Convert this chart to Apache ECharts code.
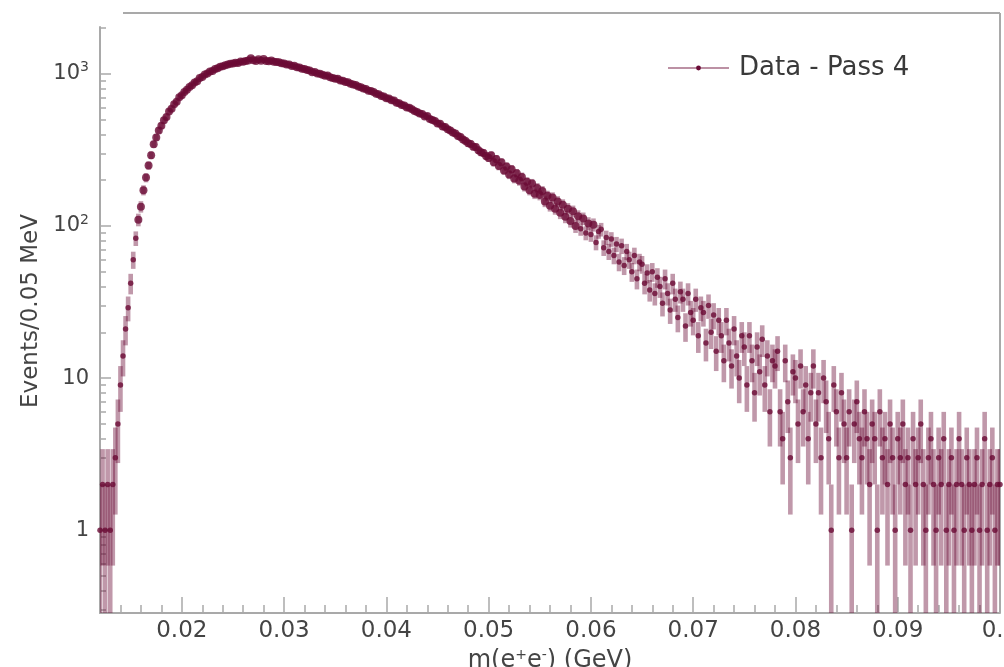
<!DOCTYPE html>
<html><head><meta charset="utf-8">
<script src="https://cdn.jsdelivr.net/npm/echarts@6/dist/echarts.min.js"></script>
<style>html,body{margin:0;padding:0;background:#fff}#c{width:1004px;height:667px}</style>
</head><body><div id="c"></div>
<script>
// histogram bins (GeV): first bin centre and spacing of the sampled bins
const binStart = 0.012;
const binStep = 0.00025;
// Events / 0.05 MeV, one row per 0.001 GeV
const counts = [
  1, 2, 1, 2,          // 0.012
  1, 2, 3, 5,          // 0.013
  9, 14, 21, 29,       // 0.014
  42, 60, 83, 110,     // 0.015
  134, 172, 208, 250,  // 0.016
  292, 345, 382, 425,  // 0.017
  455, 495, 520, 565,  // 0.018
  590, 630, 655, 702,  // 0.019
  722, 760, 785, 820,  // 0.020
  840, 878, 895, 940,  // 0.021
  955, 990, 1005, 1035,   // 0.022
  1045, 1075, 1090, 1115, // 0.023
  1120, 1140, 1150, 1165, // 0.024
  1170, 1185, 1180, 1205, // 0.025
  1200, 1215, 1225, 1265, // 0.026
  1230, 1215, 1245, 1220, // 0.027
  1250, 1215, 1210, 1225, // 0.028
  1200, 1195, 1190, 1175, // 0.029
  1170, 1150, 1150, 1125, // 0.030
  1130, 1105, 1100, 1080, // 0.031
  1075, 1060, 1050, 1025, // 0.032
  1030, 1005, 1000, 985,  // 0.033
  970, 975, 950, 940,  // 0.034
  930, 930, 905, 900,  // 0.035
  885, 880, 860, 850,  // 0.036
  845, 825, 815, 800,  // 0.037
  795, 775, 770, 760,  // 0.038
  740, 735, 715, 710,  // 0.039
  690, 688, 670, 668,  // 0.040
  645, 642, 625, 620,  // 0.041
  600, 598, 585, 570,  // 0.042
  562, 548, 545, 525,  // 0.043
  528, 505, 498, 490,  // 0.044
  472, 470, 450, 448,  // 0.045
  432, 425, 412, 405,  // 0.046
  390, 384, 370, 362,  // 0.047
  350, 346, 332, 330,  // 0.048
  315, 305, 302, 288,  // 0.049
  280, 292, 262, 276,  // 0.050
  248, 262, 232, 246,  // 0.051
  218, 236, 205, 222,  // 0.052
  198, 210, 182, 195,  // 0.053
  172, 190, 163, 178,  // 0.054
  160, 170, 145, 158,  // 0.055
  136, 154, 130, 145,  // 0.056
  122, 138, 115, 130,  // 0.057
  108, 125, 100, 116,  // 0.058
  96, 112, 90, 104,    // 0.059
  88, 102, 78, 92,     // 0.060
  95, 72, 84, 68,      // 0.061
  82, 64, 76, 58,      // 0.062
  74, 55, 68, 60,      // 0.063
  50, 64, 45, 58,      // 0.064
  56, 42, 49, 38,      // 0.065
  50, 36, 46, 40,      // 0.066
  31, 45, 36, 28,      // 0.067
  42, 33, 25, 37,      // 0.068
  33, 22, 36, 27,      // 0.069
  24, 33, 19, 29,      // 0.070
  27, 17, 30, 20,      // 0.071
  26, 15, 24, 19,      // 0.072
  13, 24, 17, 12,      // 0.073
  21, 14, 10, 19,      // 0.074
  16, 9, 19, 13,       // 0.075
  8, 16, 11, 18,       // 0.076
  9, 14, 6, 13,        // 0.077
  12, 15, 6, 4,        // 0.078
  13, 7, 3, 11,        // 0.079
  10, 5, 12, 6,        // 0.080
  9, 4, 8, 12,         // 0.081
  5, 8, 3, 10,         // 0.082
  7, 4, 1, 9,          // 0.083
  6, 3, 8, 5,          // 0.084
  3, 6, 1, 5,          // 0.085
  7, 4, 3, 6,          // 0.086
  4, 2, 5, 4,          // 0.087
  1, 6, 3, 4,          // 0.088
  2, 5, 3, 1,          // 0.089
  4, 3, 5, 2,          // 0.090
  3, 1, 4, 2,          // 0.091
  3, 5, 2, 1,          // 0.092
  3, 4, 2, 1,          // 0.093
  3, 2, 4, 1,          // 0.094
  2, 3, 1, 2,          // 0.095
  4, 2, 1, 3,          // 0.096
  2, 1, 2, 3,          // 0.097
  1, 2, 4, 1,          // 0.098
  2, 3, 1, 2,          // 0.099
  2                    // 0.100
];
const xMin = 0.012, xMax = 0.1;
const yMin = 0.2858, yMax = 2032;
const xMajorTicks = [0.02, 0.03, 0.04, 0.05, 0.06, 0.07, 0.08, 0.09, 0.1];
const xMinorTicks = [0.014, 0.016, 0.018, 0.022, 0.024, 0.026, 0.028, 0.032, 0.034, 0.036, 0.038,
  0.042, 0.044, 0.046, 0.048, 0.052, 0.054, 0.056, 0.058, 0.062, 0.064, 0.066, 0.068,
  0.072, 0.074, 0.076, 0.078, 0.082, 0.084, 0.086, 0.088, 0.092, 0.094, 0.096, 0.098];
const yMajorTicks = [1, 10, 100, 1000];
const yMinorTicks = [0.3, 0.4, 0.5, 0.6, 0.7, 0.8, 0.9, 2, 3, 4, 5, 6, 7, 8, 9,
  20, 30, 40, 50, 60, 70, 80, 90, 200, 300, 400, 500, 600, 700, 800, 900, 2000];
const seriesName = 'Data - Pass 4';
const xTitle = 'm(e{s|+}e{s|-}) (GeV)';
const yTitle = 'Events/0.05 MeV';

const MAROON = '#6a0a35';
const FONT = 'DejaVu Sans';
const AXIS = '#a9a9a9';

const points = [], errs = [];
counts.forEach((c, i) => {
  if (c <= 0) return;
  const x = binStart + i * binStep;
  const e = Math.sqrt(c);
  points.push([x, c]);
  errs.push([x, Math.max(c - e, yMin), c + e]);
});

const chart = echarts.init(document.getElementById('c'), null, {renderer: 'canvas'});
chart.setOption({
  animation: false,
  backgroundColor: '#fff',
  grid: {left: 100, right: 4, top: 27, bottom: 54, outerBoundsMode: 'none', containLabel: false},
  legend: {
    data: [seriesName], left: 662, top: 50, itemWidth: 61, itemHeight: 6, itemGap: 0,
    textStyle: {fontFamily: FONT, fontSize: 26, color: '#3a3a3a', padding: [0, 0, 0, 5], lineHeight: 26}
  },
  graphic: [
    {type: 'line', shape: {x1: 123, y1: 13, x2: 1000, y2: 13}, style: {stroke: AXIS, lineWidth: 2}, silent: true},
    {type: 'line', shape: {x1: 1000, y1: 13, x2: 1000, y2: 613}, style: {stroke: AXIS, lineWidth: 2}, silent: true}
  ],
  xAxis: [{
    type: 'value', min: xMin, max: xMax, position: 'bottom',
    axisLine: {show: true, lineStyle: {color: AXIS, width: 2}},
    axisTick: {show: true, inside: true, length: 16, customValues: xMajorTicks, lineStyle: {color: AXIS, width: 1.5}},
    axisLabel: {customValues: xMajorTicks, fontFamily: FONT, fontSize: 23, color: '#444', margin: 7,
      formatter: v => String(Math.round(v * 100) / 100)},
    splitLine: {show: false},
    name: xTitle, nameLocation: 'middle', nameGap: 30,
    nameTextStyle: {fontFamily: FONT, fontSize: 24, color: '#444',
      rich: {s: {fontFamily: FONT, fontSize: 14, color: '#444', padding: [0, 0, 12, 0]}}}
  }, {
    type: 'value', min: xMin, max: xMax, position: 'bottom',
    axisLine: {show: false},
    axisTick: {show: true, inside: true, length: 8, customValues: xMinorTicks, lineStyle: {color: AXIS, width: 1.5}},
    axisLabel: {show: false}, splitLine: {show: false}
  }],
  yAxis: [{
    type: 'log', logBase: 10, min: yMin, max: yMax, position: 'left',
    axisLine: {show: true, lineStyle: {color: AXIS, width: 2}},
    axisTick: {show: true, inside: true, length: 11, customValues: yMajorTicks, lineStyle: {color: AXIS, width: 1.5}},
    axisLabel: {customValues: yMajorTicks, margin: 11, color: '#444',
      formatter: v => {
        const e = Math.round(Math.log10(v));
        if (e >= 2) return '{b|10}{s|' + e + '}';
        return '{b|' + (e === 1 ? '10' : '1') + '}';
      },
      rich: {
        b: {fontFamily: FONT, fontSize: 21, color: '#444'},
        s: {fontFamily: FONT, fontSize: 14, color: '#444', padding: [0, 0, 12, 0]}
      }},
    splitLine: {show: false},
    name: yTitle, nameLocation: 'middle', nameGap: 50, nameRotate: 90,
    nameTextStyle: {fontFamily: FONT, fontSize: 23, color: '#444', padding: [0, 0, 0, 18]}
  }, {
    type: 'log', logBase: 10, min: yMin, max: yMax, position: 'left',
    axisLine: {show: false},
    axisTick: {show: true, inside: true, length: 6, customValues: yMinorTicks, lineStyle: {color: AXIS, width: 1.5}},
    axisLabel: {show: false}, splitLine: {show: false}
  }],
  series: [{
    name: 'errors', type: 'custom', xAxisIndex: 0, yAxisIndex: 0, clip: true,
    encode: {x: 0, y: [1, 2]},
    renderItem: (params, api) => {
      const x = api.value(0);
      const p1 = api.coord([x, api.value(1)]);
      const p2 = api.coord([x, api.value(2)]);
      return {type: 'line', shape: {x1: p1[0], y1: p1[1], x2: p2[0], y2: p2[1]},
        style: {stroke: 'rgba(106,10,53,0.42)', lineWidth: 4.6, lineCap: 'butt'}};
    },
    data: errs, z: 2
  }, {
    name: 'points', type: 'scatter', xAxisIndex: 0, yAxisIndex: 0,
    symbol: 'circle', symbolSize: v => (v[1] >= 100 ? 8 : 5.5),
    itemStyle: {color: MAROON}, data: points, z: 3
  }, {
    name: seriesName, type: 'line', data: [], symbol: 'circle', symbolSize: 4,
    itemStyle: {color: MAROON}, lineStyle: {color: 'rgba(106,10,53,0.45)', width: 1.5}
  }]
});
</script></body></html>
